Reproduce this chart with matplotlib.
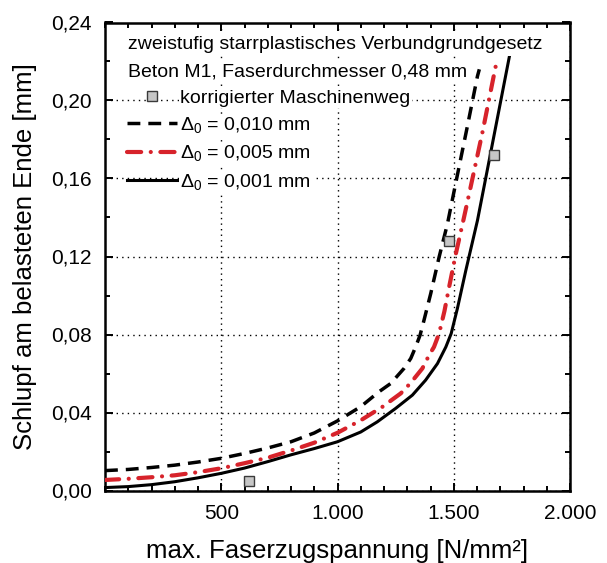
import numpy as np
import matplotlib.pyplot as plt
from matplotlib.ticker import MultipleLocator

plt.rcParams['font.family'] = ['Liberation Sans', 'DejaVu Sans']
plt.rcParams['mathtext.fontset'] = 'custom'
plt.rcParams['mathtext.rm'] = 'Liberation Sans'
plt.rcParams['mathtext.it'] = 'Liberation Sans'

# Schlupf-Kurven fuer drei Anfangsschlupfwerte
x_010 = [0, 100, 200, 300, 400, 500, 600, 700, 800, 900, 1000, 1100, 1178,
         1229, 1286, 1315, 1336, 1355, 1372, 1401, 1437, 1473, 1516, 1559,
         1602, 1610]
y_010 = [0.0102, 0.0108, 0.0118, 0.0130, 0.0146, 0.0165, 0.0190, 0.0218,
         0.0250, 0.0295, 0.0357, 0.0430, 0.0506, 0.0549, 0.0626, 0.0677,
         0.0736, 0.0796, 0.0873, 0.1010, 0.1197, 0.1368, 0.1620, 0.1870,
         0.2125, 0.2160]

x_005 = [0, 100, 200, 300, 400, 500, 600, 700, 800, 900, 1000, 1100, 1193,
         1272, 1315, 1365, 1394, 1415, 1437, 1460, 1480, 1509, 1544, 1566,
         1624, 1673, 1688]
y_005 = [0.0054, 0.0060, 0.0068, 0.0078, 0.0094, 0.0114, 0.0140, 0.0168,
         0.0205, 0.0245, 0.0296, 0.0360, 0.0429, 0.0498, 0.0552, 0.0626,
         0.0694, 0.0736, 0.0805, 0.0920, 0.1043, 0.1214, 0.1400, 0.1520,
         0.1840, 0.2132, 0.2220]

x_001 = [0, 100, 200, 300, 400, 500, 600, 700, 800, 900, 1000, 1100, 1171,
         1250, 1322, 1379, 1430, 1466, 1489, 1516, 1552, 1602, 1656, 1740]
y_001 = [0.0015, 0.0020, 0.0030, 0.0045, 0.0065, 0.0088, 0.0115, 0.0148,
         0.0183, 0.0215, 0.0250, 0.0300, 0.0352, 0.0421, 0.0489, 0.0566,
         0.0651, 0.0736, 0.0805, 0.0935, 0.1129, 0.1385, 0.1715, 0.2230]

# korrigierter Maschinenweg (Versuch)
x_mess = [620, 1480, 1675]
y_mess = [0.005, 0.128, 0.172]

xticks = [500, 1000, 1500, 2000]
xlabels = ['500', '1.000', '1.500', '2.000']
yticks = [0.00, 0.04, 0.08, 0.12, 0.16, 0.20, 0.24]
ylabels = ['0,00', '0,04', '0,08', '0,12', '0,16', '0,20', '0,24']

fig = plt.figure(figsize=(6.07, 5.63), dpi=100)
ax = fig.add_axes([105 / 607, (563 - 490.5) / 563, 465 / 607, 468 / 563])

ax.grid(True, which='major', color='black', ls=(0, (1, 3)), lw=1.0, zorder=0)
ax.set_axisbelow(True)

l1, = ax.plot(x_010, y_010, color='black', lw=2.5, ls=(0, (3.7, 2.3)),
              zorder=3)
l2, = ax.plot(x_005, y_005, color='#d7232b', lw=3.0,
              ls=(0, (3.4, 2.3, 0.01, 2.3)), dash_capstyle='round', zorder=3)
l3, = ax.plot(x_001, y_001, color='black', lw=2.2, zorder=3)
pm, = ax.plot(x_mess, y_mess, ls='none', marker='s', ms=7.5,
              mfc='#c6c6c6', mec='#3a3a3a', mew=1.0, zorder=4)

ax.set_xlim(0, 2000)
ax.set_ylim(0, 0.24)
ax.set_xticks(xticks, xlabels)
ax.set_yticks(yticks, ylabels)
ax.xaxis.set_minor_locator(MultipleLocator(100))
ax.yaxis.set_minor_locator(MultipleLocator(0.02))
ax.tick_params(which='both', direction='in', top=True, right=True,
               width=1.4, labelsize=15, pad=9.5)
ax.tick_params(which='major', length=6)
ax.tick_params(which='minor', length=3.8)
for sp in ax.spines.values():
    sp.set_linewidth(1.8)

ax.set_xlabel('max. Faserzugspannung [N/mm²]', fontsize=18.5, labelpad=12)
ax.set_ylabel('Schlupf am belasteten Ende [mm]', fontsize=18.5, labelpad=10)

white = dict(facecolor='white', edgecolor='none', pad=1.5)
ax.text(0.049, 0.952, 'zweistufig starrplastisches Verbundgrundgesetz',
        transform=ax.transAxes, fontsize=14, va='center', ha='left',
        bbox=white, zorder=6)
ax.text(0.049, 0.895, 'Beton M1, Faserdurchmesser 0,48 mm',
        transform=ax.transAxes, fontsize=14, va='center', ha='left',
        bbox=white, zorder=6)

leg = ax.legend([pm, l1, l2, l3],
                ['korrigierter Maschinenweg',
                 r'$\Delta_0$ = 0,010 mm',
                 r'$\Delta_0$ = 0,005 mm',
                 r'$\Delta_0$ = 0,001 mm'],
                loc='upper left', bbox_to_anchor=(0.047, 0.857),
                frameon=False, fontsize=14, handlelength=2.6,
                handletextpad=0.15, labelspacing=0.42, borderpad=0,
                borderaxespad=0)
leg.set_zorder(6)
for t in leg.get_texts():
    t.set_bbox(dict(facecolor='white', edgecolor='none', pad=1.0))

fig.savefig('out.png', dpi=100)
